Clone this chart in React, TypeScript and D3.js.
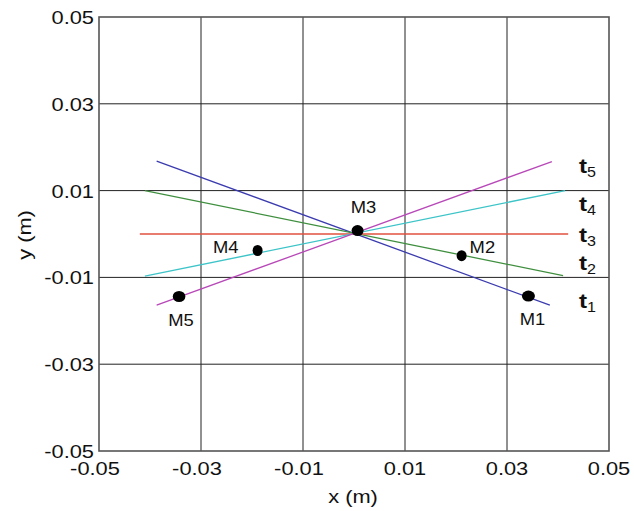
import React from 'react';
import * as d3 from 'd3';

// axis ticks
const xTicks = [-0.05, -0.03, -0.01, 0.01, 0.03, 0.05];
const yTicks = [-0.05, -0.03, -0.01, 0.01, 0.03, 0.05];

// traces t1..t5 (straight lines through the centre)
const traceNames = ['1', '2', '3', '4', '5'];
const traceX0 = [-0.0387, -0.041, -0.042, -0.041, -0.0387];
const traceY0 = [0.0168, 0.01, 0.0, -0.0097, -0.0164];
const traceX1 = [0.0384, 0.041, 0.042, 0.0414, 0.0388];
const traceY1 = [-0.0164, -0.0096, 0.0, 0.01, 0.0167];
const traceLabelY = [-0.0171, -0.0083, -0.0018, 0.0054, 0.014];

// measured points
const markerNames = ['M1', 'M2', 'M3', 'M4', 'M5'];
const markerX = [0.0342, 0.0211, 0.0007, -0.0189, -0.0343];
const markerY = [-0.0143, -0.005, 0.0008, -0.0038, -0.0144];

const traceColors = ['#3b3bb0', '#3f8f3f', '#e0503f', '#3cc4c8', '#b848b8'];
const markerRx = [6.5, 5, 6, 5, 6.3];
// label offset from the dot (px) and anchor
const markerLabelPos: [number, number, string][] = [
  [4, 29, 'middle'],
  [8, -3, 'start'],
  [6, -18, 'middle'],
  [-19, 3, 'end'],
  [2, 30, 'middle'],
];

const W = 634;
const H = 511;
const FONT = '"Liberation Sans", Arial, sans-serif';
const SX = 1.15; // the picture is a bit wider than tall

function Txt({ x, y, size, anchor = 'start', weight = 'normal', rotate = 0, children }: any) {
  return (
    <text
      transform={`translate(${x},${y}) rotate(${rotate}) scale(${SX},1)`}
      fontSize={size}
      fontFamily={FONT}
      fontWeight={weight}
      textAnchor={anchor}
      fill="#111"
    >
      {children}
    </text>
  );
}

export default function App() {
  const x = d3.scaleLinear().domain([-0.05, 0.05]).range([99, 609]);
  const y = d3.scaleLinear().domain([-0.05, 0.05]).range([451, 17]);
  const fmt = (v: number) => d3.format('.2f')(v).replace('−', '-');

  return (
    <svg
      width={W}
      height={H}
      style={{ position: 'absolute', left: 0, top: 0, background: '#fff' }}
    >
      {/* grid */}
      <g stroke="#222" strokeWidth={1}>
        {xTicks.slice(1, -1).map((t) => (
          <line key={'gx' + t} x1={x(t)} x2={x(t)} y1={y(-0.05)} y2={y(0.05)} />
        ))}
        {yTicks.slice(1, -1).map((t) => (
          <line key={'gy' + t} x1={x(-0.05)} x2={x(0.05)} y1={y(t)} y2={y(t)} />
        ))}
      </g>
      <rect
        x={x(-0.05)}
        y={y(0.05)}
        width={x(0.05) - x(-0.05)}
        height={y(-0.05) - y(0.05)}
        fill="none"
        stroke="#555"
        strokeWidth={1.6}
      />

      {/* traces */}
      {traceNames.map((n, i) => (
        <line
          key={'t' + n}
          x1={x(traceX0[i])}
          y1={y(traceY0[i])}
          x2={x(traceX1[i])}
          y2={y(traceY1[i])}
          stroke={traceColors[i]}
          strokeWidth={1.3}
        />
      ))}

      {/* markers */}
      {markerNames.map((n, i) => (
        <g key={n}>
          <ellipse cx={x(markerX[i])} cy={y(markerY[i])} rx={markerRx[i]} ry={5.5} fill="#000" />
          <Txt
            x={x(markerX[i]) + markerLabelPos[i][0]}
            y={y(markerY[i]) + markerLabelPos[i][1]}
            size={16}
            anchor={markerLabelPos[i][2]}
          >
            {n}
          </Txt>
        </g>
      ))}

      {/* trace labels */}
      {traceNames.map((n, i) => (
        <Txt key={'lab' + n} x={579} y={y(traceLabelY[i])} size={21} weight="bold">
          t<tspan fontSize={14} fontWeight="normal" dy={4}>{n}</tspan>
        </Txt>
      ))}

      {/* tick labels */}
      {yTicks.map((t) => (
        <Txt key={'yl' + t} x={94} y={y(t) + 7} size={19} anchor="end">
          {fmt(t)}
        </Txt>
      ))}
      {xTicks.map((t) => (
        <Txt key={'xl' + t} x={x(t) + (t < 0 ? -4 : 0)} y={475} size={19} anchor="middle">
          {fmt(t)}
        </Txt>
      ))}

      {/* axis titles */}
      <Txt x={353} y={503} size={19} anchor="middle">x (m)</Txt>
      <Txt x={31} y={235} size={19} anchor="middle" rotate={-90}>y (m)</Txt>
    </svg>
  );
}
